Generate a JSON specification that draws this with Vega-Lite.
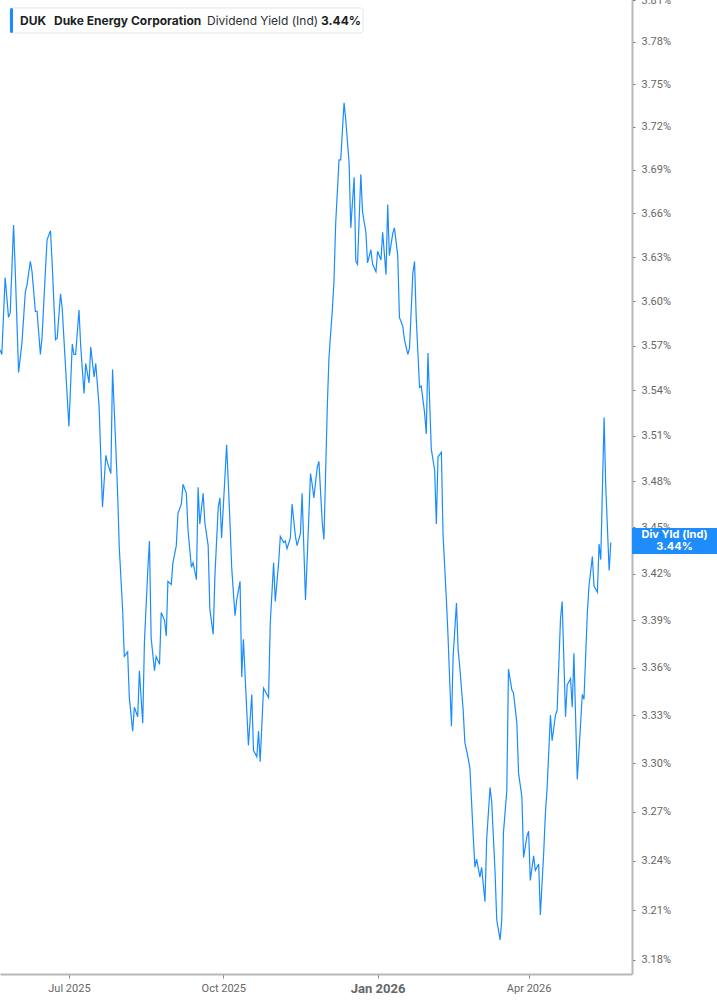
{
  "$schema": "https://vega.github.io/schema/vega-lite/v6.json",
  "width": 632,
  "height": 974,
  "autosize": {"type": "none"},
  "padding": {"left": 0, "top": 0, "right": 85, "bottom": 31},
  "background": "#ffffff",
  "config": {
    "view": {"stroke": null},
    "font": "Inter"
  },
  "datasets": {
    "yield": [
      {"date": "2025-05-21", "yield": 3.567}, {"date": "2025-05-22", "yield": 3.564}, {"date": "2025-05-24", "yield": 3.616},
      {"date": "2025-05-26", "yield": 3.589}, {"date": "2025-05-27", "yield": 3.592}, {"date": "2025-05-29", "yield": 3.652},
      {"date": "2025-05-30", "yield": 3.621}, {"date": "2025-06-01", "yield": 3.552}, {"date": "2025-06-03", "yield": 3.572},
      {"date": "2025-06-05", "yield": 3.606}, {"date": "2025-06-06", "yield": 3.611}, {"date": "2025-06-08", "yield": 3.627},
      {"date": "2025-06-09", "yield": 3.620}, {"date": "2025-06-11", "yield": 3.593}, {"date": "2025-06-12", "yield": 3.593},
      {"date": "2025-06-14", "yield": 3.564}, {"date": "2025-06-15", "yield": 3.576}, {"date": "2025-06-17", "yield": 3.621},
      {"date": "2025-06-18", "yield": 3.642}, {"date": "2025-06-20", "yield": 3.648}, {"date": "2025-06-21", "yield": 3.626},
      {"date": "2025-06-23", "yield": 3.574}, {"date": "2025-06-24", "yield": 3.575}, {"date": "2025-06-26", "yield": 3.605},
      {"date": "2025-06-27", "yield": 3.595}, {"date": "2025-06-28", "yield": 3.575}, {"date": "2025-07-01", "yield": 3.516},
      {"date": "2025-07-03", "yield": 3.571}, {"date": "2025-07-04", "yield": 3.564}, {"date": "2025-07-05", "yield": 3.564},
      {"date": "2025-07-07", "yield": 3.594}, {"date": "2025-07-08", "yield": 3.570}, {"date": "2025-07-10", "yield": 3.538},
      {"date": "2025-07-11", "yield": 3.558}, {"date": "2025-07-13", "yield": 3.545}, {"date": "2025-07-14", "yield": 3.569},
      {"date": "2025-07-16", "yield": 3.549}, {"date": "2025-07-17", "yield": 3.558}, {"date": "2025-07-19", "yield": 3.529},
      {"date": "2025-07-21", "yield": 3.463}, {"date": "2025-07-23", "yield": 3.497}, {"date": "2025-07-24", "yield": 3.492},
      {"date": "2025-07-26", "yield": 3.485}, {"date": "2025-07-27", "yield": 3.554}, {"date": "2025-07-29", "yield": 3.501},
      {"date": "2025-07-30", "yield": 3.473}, {"date": "2025-07-31", "yield": 3.437}, {"date": "2025-08-02", "yield": 3.397},
      {"date": "2025-08-03", "yield": 3.367}, {"date": "2025-08-05", "yield": 3.370}, {"date": "2025-08-06", "yield": 3.341},
      {"date": "2025-08-08", "yield": 3.320}, {"date": "2025-08-09", "yield": 3.335}, {"date": "2025-08-11", "yield": 3.329},
      {"date": "2025-08-12", "yield": 3.358}, {"date": "2025-08-14", "yield": 3.325}, {"date": "2025-08-15", "yield": 3.376},
      {"date": "2025-08-17", "yield": 3.422}, {"date": "2025-08-18", "yield": 3.441}, {"date": "2025-08-19", "yield": 3.379},
      {"date": "2025-08-21", "yield": 3.358}, {"date": "2025-08-22", "yield": 3.367}, {"date": "2025-08-24", "yield": 3.362},
      {"date": "2025-08-25", "yield": 3.395}, {"date": "2025-08-27", "yield": 3.390}, {"date": "2025-08-28", "yield": 3.380},
      {"date": "2025-08-29", "yield": 3.415}, {"date": "2025-08-31", "yield": 3.413}, {"date": "2025-09-01", "yield": 3.427},
      {"date": "2025-09-03", "yield": 3.438}, {"date": "2025-09-04", "yield": 3.459}, {"date": "2025-09-06", "yield": 3.465},
      {"date": "2025-09-07", "yield": 3.478}, {"date": "2025-09-09", "yield": 3.472}, {"date": "2025-09-10", "yield": 3.448},
      {"date": "2025-09-12", "yield": 3.424}, {"date": "2025-09-13", "yield": 3.427}, {"date": "2025-09-15", "yield": 3.416},
      {"date": "2025-09-16", "yield": 3.476}, {"date": "2025-09-17", "yield": 3.452}, {"date": "2025-09-19", "yield": 3.472},
      {"date": "2025-09-20", "yield": 3.453}, {"date": "2025-09-22", "yield": 3.438}, {"date": "2025-09-23", "yield": 3.397},
      {"date": "2025-09-25", "yield": 3.381}, {"date": "2025-09-26", "yield": 3.418}, {"date": "2025-09-28", "yield": 3.463},
      {"date": "2025-09-29", "yield": 3.469}, {"date": "2025-09-30", "yield": 3.443}, {"date": "2025-10-02", "yield": 3.483},
      {"date": "2025-10-03", "yield": 3.504}, {"date": "2025-10-05", "yield": 3.453}, {"date": "2025-10-06", "yield": 3.424},
      {"date": "2025-10-08", "yield": 3.393}, {"date": "2025-10-09", "yield": 3.403}, {"date": "2025-10-11", "yield": 3.415},
      {"date": "2025-10-12", "yield": 3.354}, {"date": "2025-10-13", "yield": 3.378}, {"date": "2025-10-15", "yield": 3.333},
      {"date": "2025-10-16", "yield": 3.311}, {"date": "2025-10-18", "yield": 3.343}, {"date": "2025-10-19", "yield": 3.308},
      {"date": "2025-10-21", "yield": 3.304}, {"date": "2025-10-22", "yield": 3.320}, {"date": "2025-10-23", "yield": 3.301},
      {"date": "2025-10-25", "yield": 3.347}, {"date": "2025-10-26", "yield": 3.345}, {"date": "2025-10-28", "yield": 3.341},
      {"date": "2025-10-29", "yield": 3.388}, {"date": "2025-10-31", "yield": 3.427}, {"date": "2025-11-01", "yield": 3.402},
      {"date": "2025-11-03", "yield": 3.427}, {"date": "2025-11-04", "yield": 3.444}, {"date": "2025-11-06", "yield": 3.440},
      {"date": "2025-11-07", "yield": 3.441}, {"date": "2025-11-08", "yield": 3.436}, {"date": "2025-11-10", "yield": 3.443},
      {"date": "2025-11-11", "yield": 3.465}, {"date": "2025-11-13", "yield": 3.444}, {"date": "2025-11-14", "yield": 3.438},
      {"date": "2025-11-16", "yield": 3.446}, {"date": "2025-11-17", "yield": 3.472}, {"date": "2025-11-19", "yield": 3.403},
      {"date": "2025-11-20", "yield": 3.429}, {"date": "2025-11-22", "yield": 3.485}, {"date": "2025-11-23", "yield": 3.478},
      {"date": "2025-11-24", "yield": 3.469}, {"date": "2025-11-26", "yield": 3.489}, {"date": "2025-11-27", "yield": 3.493},
      {"date": "2025-11-29", "yield": 3.453}, {"date": "2025-11-30", "yield": 3.442}, {"date": "2025-12-02", "yield": 3.529},
      {"date": "2025-12-03", "yield": 3.562}, {"date": "2025-12-05", "yield": 3.594}, {"date": "2025-12-06", "yield": 3.614},
      {"date": "2025-12-07", "yield": 3.653}, {"date": "2025-12-09", "yield": 3.697}, {"date": "2025-12-10", "yield": 3.697},
      {"date": "2025-12-12", "yield": 3.737}, {"date": "2025-12-13", "yield": 3.725}, {"date": "2025-12-15", "yield": 3.695},
      {"date": "2025-12-16", "yield": 3.650}, {"date": "2025-12-18", "yield": 3.685}, {"date": "2025-12-19", "yield": 3.627},
      {"date": "2025-12-20", "yield": 3.625}, {"date": "2025-12-22", "yield": 3.687}, {"date": "2025-12-23", "yield": 3.661},
      {"date": "2025-12-25", "yield": 3.647}, {"date": "2025-12-26", "yield": 3.626}, {"date": "2025-12-28", "yield": 3.635},
      {"date": "2025-12-29", "yield": 3.625}, {"date": "2025-12-31", "yield": 3.620}, {"date": "2026-01-01", "yield": 3.634},
      {"date": "2026-01-03", "yield": 3.628}, {"date": "2026-01-04", "yield": 3.647}, {"date": "2026-01-06", "yield": 3.618},
      {"date": "2026-01-07", "yield": 3.666}, {"date": "2026-01-08", "yield": 3.631}, {"date": "2026-01-10", "yield": 3.646},
      {"date": "2026-01-11", "yield": 3.650}, {"date": "2026-01-13", "yield": 3.631}, {"date": "2026-01-14", "yield": 3.589},
      {"date": "2026-01-16", "yield": 3.583}, {"date": "2026-01-17", "yield": 3.574}, {"date": "2026-01-19", "yield": 3.564},
      {"date": "2026-01-20", "yield": 3.568}, {"date": "2026-01-22", "yield": 3.619}, {"date": "2026-01-23", "yield": 3.627},
      {"date": "2026-01-24", "yield": 3.589}, {"date": "2026-01-26", "yield": 3.542}, {"date": "2026-01-27", "yield": 3.543},
      {"date": "2026-01-29", "yield": 3.525}, {"date": "2026-01-30", "yield": 3.511}, {"date": "2026-01-31", "yield": 3.565},
      {"date": "2026-02-02", "yield": 3.501}, {"date": "2026-02-04", "yield": 3.487}, {"date": "2026-02-05", "yield": 3.452},
      {"date": "2026-02-06", "yield": 3.496}, {"date": "2026-02-08", "yield": 3.499}, {"date": "2026-02-09", "yield": 3.445},
      {"date": "2026-02-11", "yield": 3.403}, {"date": "2026-02-12", "yield": 3.379}, {"date": "2026-02-14", "yield": 3.323},
      {"date": "2026-02-15", "yield": 3.367}, {"date": "2026-02-17", "yield": 3.401}, {"date": "2026-02-18", "yield": 3.371},
      {"date": "2026-02-19", "yield": 3.360}, {"date": "2026-02-21", "yield": 3.333}, {"date": "2026-02-22", "yield": 3.313},
      {"date": "2026-02-24", "yield": 3.303}, {"date": "2026-02-25", "yield": 3.297}, {"date": "2026-02-27", "yield": 3.255},
      {"date": "2026-02-28", "yield": 3.236}, {"date": "2026-03-01", "yield": 3.241}, {"date": "2026-03-03", "yield": 3.230},
      {"date": "2026-03-04", "yield": 3.236}, {"date": "2026-03-06", "yield": 3.215}, {"date": "2026-03-07", "yield": 3.253},
      {"date": "2026-03-09", "yield": 3.285}, {"date": "2026-03-10", "yield": 3.276}, {"date": "2026-03-12", "yield": 3.233},
      {"date": "2026-03-13", "yield": 3.204}, {"date": "2026-03-15", "yield": 3.192}, {"date": "2026-03-16", "yield": 3.204},
      {"date": "2026-03-17", "yield": 3.257}, {"date": "2026-03-19", "yield": 3.283}, {"date": "2026-03-20", "yield": 3.359},
      {"date": "2026-03-22", "yield": 3.346}, {"date": "2026-03-23", "yield": 3.344}, {"date": "2026-03-25", "yield": 3.325},
      {"date": "2026-03-26", "yield": 3.294}, {"date": "2026-03-28", "yield": 3.279}, {"date": "2026-03-29", "yield": 3.242},
      {"date": "2026-03-31", "yield": 3.255}, {"date": "2026-04-01", "yield": 3.258}, {"date": "2026-04-02", "yield": 3.228},
      {"date": "2026-04-04", "yield": 3.243}, {"date": "2026-04-05", "yield": 3.234}, {"date": "2026-04-07", "yield": 3.238},
      {"date": "2026-04-08", "yield": 3.207}, {"date": "2026-04-10", "yield": 3.245}, {"date": "2026-04-11", "yield": 3.269},
      {"date": "2026-04-12", "yield": 3.284}, {"date": "2026-04-14", "yield": 3.330}, {"date": "2026-04-15", "yield": 3.314},
      {"date": "2026-04-17", "yield": 3.330}, {"date": "2026-04-18", "yield": 3.333}, {"date": "2026-04-20", "yield": 3.391},
      {"date": "2026-04-21", "yield": 3.402}, {"date": "2026-04-23", "yield": 3.329}, {"date": "2026-04-24", "yield": 3.349},
      {"date": "2026-04-26", "yield": 3.353}, {"date": "2026-04-27", "yield": 3.335}, {"date": "2026-04-28", "yield": 3.369},
      {"date": "2026-04-30", "yield": 3.290}, {"date": "2026-05-01", "yield": 3.307}, {"date": "2026-05-03", "yield": 3.343},
      {"date": "2026-05-04", "yield": 3.340}, {"date": "2026-05-06", "yield": 3.395}, {"date": "2026-05-07", "yield": 3.412},
      {"date": "2026-05-09", "yield": 3.431}, {"date": "2026-05-10", "yield": 3.412}, {"date": "2026-05-12", "yield": 3.408},
      {"date": "2026-05-13", "yield": 3.439}, {"date": "2026-05-14", "yield": 3.429}, {"date": "2026-05-16", "yield": 3.522},
      {"date": "2026-05-17", "yield": 3.476}, {"date": "2026-05-19", "yield": 3.422}, {"date": "2026-05-20", "yield": 3.440}
    ],
    "header": [
      {"ticker": "DUK", "company": "Duke Energy Corporation", "metric": "Dividend Yield (Ind)", "last": "3.44%"}
    ],
    "badge": [
      {"label": "Div Yld (Ind)", "last": "3.44%"}
    ]
  },
  "layer": [
    {
      "data": {"name": "yield"},
      "mark": {"type": "line", "color": "#1a8cff", "strokeWidth": 1.2},
      "encoding": {
        "x": {
          "field": "date",
          "type": "temporal",
          "title": null,
          "scale": {
            "type": "utc",
            "domain": [
              {"year": 2025, "month": 5, "date": 20, "hours": 22, "utc": true},
              {"year": 2026, "month": 6, "date": 1, "hours": 15, "utc": true}
            ]
          },
          "axis": {
            "values": [
              {"year": 2025, "month": 7, "date": 1, "utc": true},
              {"year": 2025, "month": 10, "date": 1, "utc": true},
              {"year": 2026, "month": 1, "date": 1, "utc": true},
              {"year": 2026, "month": 4, "date": 1, "utc": true}
            ],
            "labelExpr": "utcFormat(datum.value, '%b %Y')",
            "grid": false,
            "domainColor": "#b8b8b8",
            "domainWidth": 2,
            "tickColor": "#8a8a8a",
            "tickSize": 4,
            "labelFont": "Roboto",
            "labelColor": "#666666",
            "labelPadding": 4,
            "labelFontSize": {"condition": {"test": "utcmonth(datum.value) === 0", "value": 13}, "value": 11},
            "labelFontWeight": {"condition": {"test": "utcmonth(datum.value) === 0", "value": "bold"}, "value": "normal"}
          }
        },
        "y": {
          "field": "yield",
          "type": "quantitative",
          "title": null,
          "scale": {"type": "log", "domain": [3.1716, 3.81], "nice": false, "zero": false},
          "axis": {
            "orient": "right",
            "values": [3.18, 3.21, 3.24, 3.27, 3.30, 3.33, 3.36, 3.39, 3.42, 3.45, 3.48, 3.51, 3.54, 3.57, 3.60, 3.63, 3.66, 3.69, 3.72, 3.75, 3.78, 3.81],
            "labelExpr": "format(datum.value, '.2f') + '%'",
            "grid": false,
            "domainColor": "#b8b8b8",
            "domainWidth": 2,
            "tickColor": "#777777",
            "tickSize": 3,
            "labelFont": "Roboto",
            "labelColor": "#666666",
            "labelFontSize": 11,
            "labelPadding": 6,
            "labelBound": false,
            "labelOverlap": false
          }
        }
      }
    },
    {
      "data": {"name": "header"},
      "mark": {"type": "rect", "fill": "#ffffff", "stroke": "#e4e4e4", "strokeWidth": 1, "cornerRadius": 3},
      "encoding": {
        "x": {"datum": {"year": 2025, "month": 5, "date": 26, "hours": 21, "utc": true}, "type": "temporal"},
        "x2": {"datum": {"year": 2025, "month": 12, "date": 23, "hours": 7, "utc": true}},
        "y": {"datum": 3.8043, "type": "quantitative"},
        "y2": {"datum": 3.7864}
      }
    },
    {
      "data": {"name": "header"},
      "mark": {"type": "rect", "fill": "#1a8cff", "cornerRadius": 1.5},
      "encoding": {
        "x": {"datum": {"year": 2025, "month": 5, "date": 26, "hours": 21, "utc": true}, "type": "temporal"},
        "x2": {"datum": {"year": 2025, "month": 5, "date": 28, "hours": 16, "utc": true}},
        "y": {"datum": 3.8043, "type": "quantitative"},
        "y2": {"datum": 3.7864}
      }
    },
    {
      "data": {"name": "header"},
      "mark": {"type": "text", "font": "Inter", "fontSize": 12, "fontWeight": "bold", "color": "#1c1f24", "align": "left", "baseline": "middle"},
      "encoding": {
        "x": {"datum": {"year": 2025, "month": 6, "date": 1, "hours": 20, "utc": true}, "type": "temporal"},
        "y": {"datum": 3.7953, "type": "quantitative"},
        "text": {"field": "ticker"}
      }
    },
    {
      "data": {"name": "header"},
      "mark": {"type": "text", "font": "Inter", "fontSize": 12, "fontWeight": "bold", "color": "#1c1f24", "align": "left", "baseline": "middle"},
      "encoding": {
        "x": {"datum": {"year": 2025, "month": 6, "date": 22, "hours": 2, "utc": true}, "type": "temporal"},
        "y": {"datum": 3.7953, "type": "quantitative"},
        "text": {"field": "company"}
      }
    },
    {
      "data": {"name": "header"},
      "mark": {"type": "text", "font": "Inter", "fontSize": 12, "fontWeight": "normal", "color": "#2a2d33", "align": "left", "baseline": "middle"},
      "encoding": {
        "x": {"datum": {"year": 2025, "month": 9, "date": 21, "hours": 7, "utc": true}, "type": "temporal"},
        "y": {"datum": 3.7953, "type": "quantitative"},
        "text": {"field": "metric"}
      }
    },
    {
      "data": {"name": "header"},
      "mark": {"type": "text", "font": "Inter", "fontSize": 12, "fontWeight": "bold", "color": "#1c1f24", "align": "left", "baseline": "middle"},
      "encoding": {
        "x": {"datum": {"year": 2025, "month": 11, "date": 28, "hours": 7, "utc": true}, "type": "temporal"},
        "y": {"datum": 3.7953, "type": "quantitative"},
        "text": {"field": "last"}
      }
    },
    {
      "data": {"name": "badge"},
      "mark": {"type": "rect", "fill": "#1e8cfa"},
      "encoding": {
        "x": {"datum": {"year": 2026, "month": 6, "date": 1, "hours": 15, "utc": true}, "type": "temporal"},
        "x2": {"datum": {"year": 2026, "month": 7, "date": 23, "utc": true}},
        "y": {"datum": 3.4494, "type": "quantitative"},
        "y2": {"datum": 3.4326}
      }
    },
    {
      "data": {"name": "badge"},
      "mark": {"type": "text", "font": "Inter", "fontSize": 11, "fontWeight": "bold", "color": "#ffffff", "align": "center", "baseline": "middle"},
      "encoding": {
        "x": {"datum": {"year": 2026, "month": 6, "date": 27, "utc": true}, "type": "temporal"},
        "y": {"datum": 3.4449, "type": "quantitative"},
        "text": {"field": "label"}
      }
    },
    {
      "data": {"name": "badge"},
      "mark": {"type": "text", "font": "Inter", "fontSize": 11, "fontWeight": "bold", "color": "#ffffff", "align": "center", "baseline": "middle"},
      "encoding": {
        "x": {"datum": {"year": 2026, "month": 6, "date": 27, "utc": true}, "type": "temporal"},
        "y": {"datum": 3.4371, "type": "quantitative"},
        "text": {"field": "last"}
      }
    }
  ]
}
